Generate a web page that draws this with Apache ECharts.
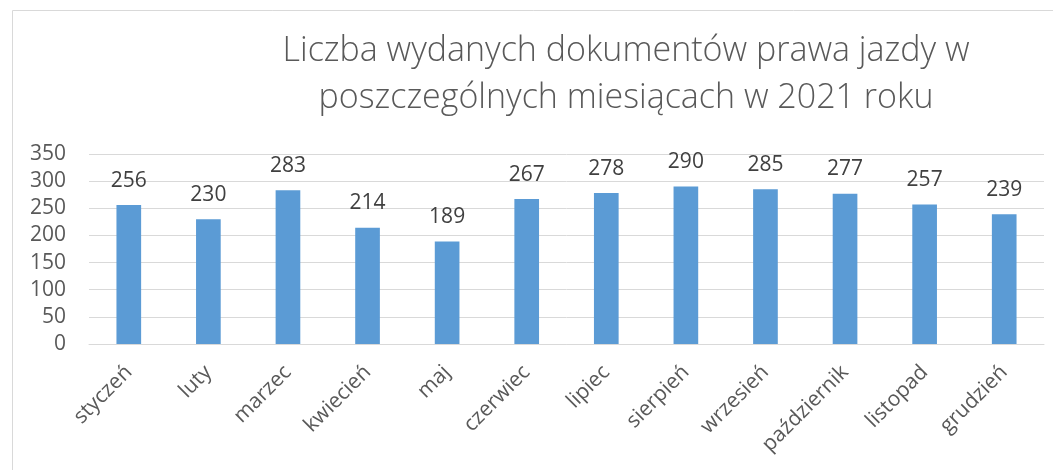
<!DOCTYPE html>
<html><head><meta charset="utf-8">
<script src="https://cdn.jsdelivr.net/npm/echarts@6/dist/echarts.min.js"></script>
<style>html,body{margin:0;padding:0;background:#fff}#c{width:1053px;height:470px}</style>
</head><body><div id="c"></div>
<script>
const titleLines = ['Liczba wydanych dokumentów prawa jazdy w', 'poszczególnych miesiącach w 2021 roku'];
const categories = ['styczeń','luty','marzec','kwiecień','maj','czerwiec','lipiec','sierpień','wrzesień','październik','listopad','grudzień'];
const values = [256,230,283,214,189,267,278,290,285,277,257,239];
const yTicks = {min:0, max:350, interval:50};

const chart = echarts.init(document.getElementById('c'));
chart.setOption({
  animation:false,
  graphic:[{type:'rect', shape:{x:12.5,y:10.5,width:1100,height:500}, style:{fill:'none', stroke:'#d9d9d9', lineWidth:1}, silent:true}],
  title:{text:titleLines.join('\n'), left:621, top:23, textAlign:'center',
    textStyle:{fontFamily:'Open Sans', fontWeight:300, fontSize:34, color:'#595959', lineHeight:47}},
  grid:{left:89, right:9, top:154, bottom:126, containLabel:false},
  xAxis:{type:'category', data:categories,
    axisLine:{lineStyle:{color:'#d9d9d9', width:1}}, axisTick:{show:false},
    axisLabel:{rotate:45, interval:0, fontFamily:'Open Sans', fontSize:21, color:'#595959', margin:25}},
  yAxis:{type:'value', min:yTicks.min, max:yTicks.max, interval:yTicks.interval,
    axisLine:{show:false}, axisTick:{show:false},
    splitLine:{lineStyle:{color:'#d9d9d9', width:1}},
    axisLabel:{fontFamily:'Open Sans', fontSize:21, color:'#595959', margin:23}},
  series:[{type:'bar', data:values, barWidth:'31%', itemStyle:{color:'#5b9bd5'},
    label:{show:true, position:'top', distance:14, fontFamily:'Open Sans', fontSize:21, color:'#404040'}}]
});
</script></body></html>
